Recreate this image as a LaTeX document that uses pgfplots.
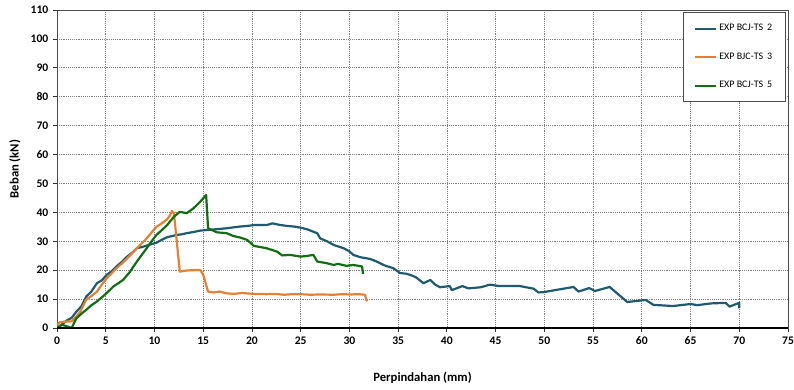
\documentclass[border=0pt]{standalone}
\usepackage{pgfplots}
\pgfplotsset{compat=1.18}
\usepackage{fontspec}
\setmainfont{Carlito}
\definecolor{cblue}{RGB}{31,90,110}
\definecolor{corange}{RGB}{228,128,52}
\definecolor{cgreen}{RGB}{18,110,18}
\begin{document}
\begin{tikzpicture}
\begin{axis}[
  name=ax,
  scale only axis,
  width=548.25pt, height=238.5pt,
  xmin=0, xmax=75, ymin=0, ymax=110,
  xtick distance=5, ytick distance=10,
  grid=major,
  major grid style={densely dotted, black!50, line width=0.5pt},
  axis line style={draw=black!70, line width=0.7pt},
  tick pos=left, tick align=outside, major tick length=3pt,
  tick style={black!80, line width=0.6pt},
  /pgf/number format/assume math mode=true,
  ticklabel style={font=\fontsize{8.7}{10}\selectfont\bfseries},
  xlabel={Perpindahan (mm)}, ylabel={Beban (kN)},
  label style={font=\fontsize{9.5}{11}\selectfont\bfseries},
  xlabel style={at={(axis description cs:0.5,-0.157)}, anchor=center},
  ylabel style={at={(axis description cs:-0.0575,0.5)}, anchor=center},
  legend style={at={(rel axis cs:0.9973,0.9937)}, anchor=north east,
    draw=black!70, line width=0.6pt, font=\fontsize{7.5}{9}\selectfont,
    row sep=11pt, inner ysep=7pt, inner xsep=8pt, cells={anchor=west}},
  legend image code/.code={\draw[#1, line width=1.4pt] (0cm,0cm) -- (0.55cm,0cm);},
  every axis plot/.append style={line width=1.65pt, line join=round},
]
\addplot[cblue] coordinates {
(0,0) (0.5,1.2) (1.0,2.6) (1.5,3.5) (2.0,5.7) (2.5,7.5) (3.0,10.9) (3.5,12.5) (4.1,15.5) (4.6,16.5) (5.1,18.4) (5.6,19.6) (6.1,21.3) (6.7,23.0) (7.2,24.7) (7.7,26.0) (8.2,27.6) (8.7,28.0) (9.2,28.5) (9.7,29.0) (10.2,29.5) (10.8,30.6) (11.3,31.4) (11.8,31.8) (12.3,32.2) (12.8,32.4) (13.3,32.8) (14.0,33.2) (14.7,33.7) (15.4,33.9) (16.1,34.1) (16.8,34.3) (17.4,34.5) (18.1,34.8) (18.8,35.1) (19.5,35.3) (20.2,35.6) (21.5,35.6) (22.1,36.2) (22.8,35.7) (23.6,35.3) (24.3,35.1) (25.0,34.7) (25.7,34.1) (26.3,33.3) (26.7,32.8) (27.0,31.0) (27.7,30.0) (28.4,28.7) (29.4,27.6) (30.0,26.5) (30.4,25.3) (31.1,24.5) (32.1,23.9) (32.8,23.0) (33.5,21.8) (34.0,21.2) (34.5,20.7) (35.2,19.0) (35.8,18.8) (36.3,18.3) (36.8,17.6) (37.6,15.5) (38.3,16.6) (38.8,15.0) (39.3,14.1) (40.3,14.5) (40.5,13.1) (41.6,14.5) (42.2,13.7) (43.5,14.1) (44.4,15.0) (45.4,14.5) (47.5,14.5) (48.9,13.6) (49.4,12.3) (49.9,12.4) (53.0,14.2) (53.5,12.6) (54.6,13.8) (55.2,12.8) (56.7,14.2) (58.5,9.0) (60.4,9.7) (61.2,8.0) (63.2,7.6) (65.0,8.3) (65.7,7.9) (67.1,8.5) (68.6,8.7) (69.0,7.4) (70.0,8.7) (70.0,6.9)
};
\addlegendentry{EXP BCJ-TS\, 2}
\addplot[corange] coordinates {
(0,1.1) (0.3,2.0) (0.8,2.2) (1.5,2.3) (2.0,4.0) (2.4,5.7) (3.0,9.8) (3.5,11.0) (4.1,12.6) (4.6,15.0) (5.1,17.2) (5.6,18.9) (6.1,20.7) (6.7,22.4) (7.2,24.1) (7.7,25.8) (8.2,27.6) (8.7,29.3) (9.2,31.0) (9.7,33.0) (10.2,35.0) (10.8,36.3) (11.3,37.6) (11.6,39.0) (11.8,40.5) (12.0,39.7) (12.6,19.5) (13.3,19.9) (14.0,20.0) (14.7,20.1) (15.0,18.4) (15.5,12.6) (16.1,12.3) (16.7,12.6) (17.4,12.0) (18.1,11.8) (19.0,12.1) (20.2,11.8) (21.5,11.7) (22.4,11.8) (23.3,11.5) (24.2,11.7) (25.0,11.7) (26.0,11.5) (27.0,11.6) (28.4,11.5) (29.2,11.7) (30.1,11.6) (31.0,11.7) (31.6,11.5) (31.8,9.2)
};
\addlegendentry{EXP BJC-TS\, 3}
\addplot[cgreen] coordinates {
(0,0) (0.5,1.1) (1.0,0.6) (1.5,0) (2.0,3.4) (2.5,4.9) (3.0,6.3) (3.5,7.8) (4.1,9.2) (4.6,10.6) (5.1,12.1) (5.8,14.4) (6.3,15.5) (6.8,16.7) (7.5,19.5) (8.2,23.0) (8.7,25.3) (9.2,27.6) (9.7,30.0) (10.2,32.2) (10.8,34.0) (11.3,35.6) (12.0,38.5) (12.6,40.2) (13.3,39.7) (14.0,41.4) (14.7,43.7) (15.3,46.0) (15.5,34.5) (16.4,33.1) (17.4,32.8) (18.1,31.8) (18.8,31.3) (19.5,30.5) (20.2,28.4) (21.5,27.6) (22.6,26.4) (23.1,25.1) (23.9,25.3) (25.0,24.7) (25.6,24.9) (26.3,25.3) (26.7,23.0) (27.7,22.4) (28.4,21.8) (28.8,22.2) (29.7,21.5) (30.4,21.8) (31.3,21.3) (31.4,18.7)
};
\addlegendentry{EXP BCJ-TS\, 5}
\draw[black, line width=1.5pt] (rel axis cs:0,0) -- (rel axis cs:1,0);
\end{axis}
\pgfresetboundingbox
\path[use as bounding box] ([shift={(-42.75pt,-45.75pt)}]ax.south west) rectangle ([shift={(4.5pt,7.5pt)}]ax.north east);
\end{tikzpicture}
\end{document}
